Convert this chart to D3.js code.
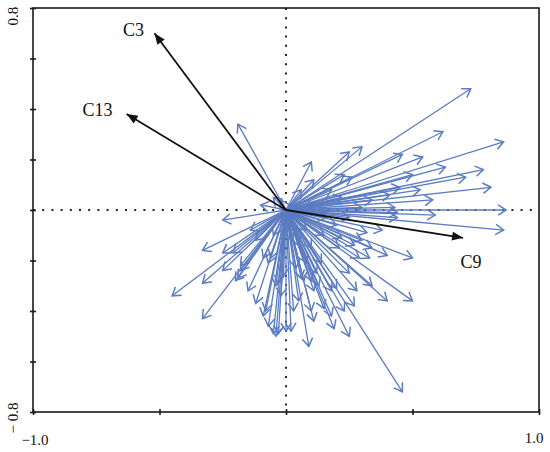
<!DOCTYPE html>
<html>
<head>
<meta charset="utf-8">
<script src="https://cdn.jsdelivr.net/npm/d3@7"></script>
<style>
  body { margin: 0; background: #fff; }
  svg text { font-family: "Liberation Serif", "DejaVu Serif", serif; fill: #111; }
</style>
</head>
<body>
<div id="chart"></div>
<script>
// species arrows (blue)
var speciesX = [0.73, 0.62, 0.86, 0.30, 0.25, 0.10, 0.46, 0.54, 0.63, 0.78, 0.71, 0.50, 0.26, 0.23, 0.11, 0.81, 0.45, 0.53, 0.41, 0.58, 0.34, 0.22, 0.87, 0.43, 0.30, 0.59,
    0.86, 0.44, 0.44, 0.38, 0.50, 0.40, 0.33, 0.29, 0.27, 0.34, 0.21, 0.30, 0.32, 0.50, 0.34, 0.28, 0.25, 0.20, 0.40, 0.27, 0.23, 0.25, 0.19, 0.11, 0.15, 0.10, 0.09, 0.46, 0.02, 0.00, -0.04, -0.02, 0.07,
    -0.19, -0.10, -0.25, -0.33, -0.25, -0.21, -0.25, -0.18, -0.33, -0.20, -0.15, -0.45, -0.33, -0.09, -0.07, -0.05, -0.03, -0.07,
    -0.18, -0.19, -0.09, -0.06, -0.01, -0.03, 0.06, 0.10, 0.08, 0.14, 0.04, 0.11, 0.18, 0.18, -0.05, -0.02, 0.12, 0.16, 0.08, 0.15, 0.20, 0.22, 0.05,
    -0.12, -0.08, 0.03, 0.05, -0.04, 0.13, -0.12, -0.05, 0.02, 0.10, -0.14, 0.06, 0.18, 0.25, 0.12];
var speciesY = [0.48, 0.31, 0.27, 0.25, 0.23, 0.19, 0.22, 0.21, 0.17, 0.16, 0.13, 0.14, 0.13, 0.14, 0.12, 0.09, 0.09, 0.08, 0.06, 0.04, 0.04, 0.05, 0.00, 0.01, 0.01, -0.02,
    -0.08, -0.01, -0.03, -0.08, -0.19, -0.18, -0.19, -0.19, -0.14, -0.15, -0.15, -0.12, -0.09, -0.36, -0.30, -0.32, -0.25, -0.31, -0.36, -0.38, -0.40, -0.50, -0.47, -0.44, -0.39, -0.40, -0.54, -0.72, -0.48, -0.48, -0.50, -0.34, -0.28,
    0.34, 0.02, -0.04, -0.16, -0.17, -0.17, -0.24, -0.24, -0.29, -0.28, -0.32, -0.34, -0.43, -0.42, -0.46, -0.49, -0.49, -0.21,
    -0.22, -0.27, -0.19, -0.19, -0.26, -0.29, -0.27, -0.28, -0.21, -0.21, -0.23, -0.32, -0.32, -0.42, 0.05, 0.04, 0.02, -0.03, -0.08, -0.10, -0.06, -0.11, -0.14,
    -0.37, -0.40, -0.40, -0.36, -0.30, -0.30, -0.12, -0.10, -0.12, -0.15, -0.08, 0.08, 0.08, -0.03, -0.25];

// environmental arrows (black)
var envLabels = ["C3", "C13", "C9"];
var envX = [-0.52, -0.63, 0.70];
var envY = [0.70, 0.38, -0.11];

var xTicks = [-1.0, -0.5, 0, 0.5, 1.0];
var yTicks = [-0.8, -0.6, -0.4, -0.2, 0, 0.2, 0.4, 0.6, 0.8];

var width = 550, height = 452;
var margin = {top: 8, right: 11, bottom: 40, left: 33};

var svg = d3.select("#chart")
    .append("svg")
    .attr("width", width)
    .attr("height", height);

var x = d3.scaleLinear().domain([-1, 1]).range([margin.left, width - margin.right]);
var y = d3.scaleLinear().domain([-0.8, 0.8]).range([height - margin.bottom, margin.top]);

var defs = svg.append("defs");
defs.append("marker")
    .attr("id", "headBlue")
    .attr("markerUnits", "userSpaceOnUse")
    .attr("viewBox", "-11 -7 13 14")
    .attr("refX", 0).attr("refY", 0)
    .attr("markerWidth", 13).attr("markerHeight", 14)
    .attr("orient", "auto")
    .append("path")
    .attr("d", "M-8,-5.2L0,0L-8,5.2")
    .attr("fill", "none")
    .attr("stroke", "#5b7cc1")
    .attr("stroke-width", 1.5);
defs.append("marker")
    .attr("id", "headBlack")
    .attr("markerUnits", "userSpaceOnUse")
    .attr("viewBox", "-12 -6 14 12")
    .attr("refX", 0).attr("refY", 0)
    .attr("markerWidth", 14).attr("markerHeight", 12)
    .attr("orient", "auto")
    .append("path")
    .attr("d", "M-11,-4.5L0,0L-11,4.5Z")
    .attr("fill", "#111");

// dotted zero lines
svg.append("line")
    .attr("x1", x(0)).attr("x2", x(0))
    .attr("y1", y(0.8)).attr("y2", y(-0.8))
    .attr("stroke", "#222").attr("stroke-width", 2)
    .attr("stroke-dasharray", "2,7.2");
svg.append("line")
    .attr("x1", x(-1)).attr("x2", x(1))
    .attr("y1", y(0)).attr("y2", y(0))
    .attr("stroke", "#222").attr("stroke-width", 2)
    .attr("stroke-dasharray", "2,7.2");

// frame
svg.append("rect")
    .attr("x", x(-1)).attr("y", y(0.8))
    .attr("width", x(1) - x(-1)).attr("height", y(-0.8) - y(0.8))
    .attr("fill", "none").attr("stroke", "#1a1a1a").attr("stroke-width", 1.6);

// axes with ticks crossing the frame
var yAxis = svg.append("g")
    .attr("transform", "translate(" + x(-1) + ",0)")
    .call(d3.axisLeft(y).tickValues(yTicks).tickSize(3).tickFormat(""));
var xAxis = svg.append("g")
    .attr("transform", "translate(0," + y(-0.8) + ")")
    .call(d3.axisBottom(x).tickValues(xTicks).tickSize(3).tickFormat(""));
[yAxis, xAxis].forEach(function (g) {
    g.select(".domain").remove();
    g.selectAll(".tick line").attr("stroke", "#1a1a1a").attr("stroke-width", 1.6);
});
yAxis.selectAll(".tick line").attr("x1", 3).attr("x2", -3);
xAxis.selectAll(".tick line").attr("y1", -3).attr("y2", 3);

// end labels
svg.append("text")
    .attr("x", x(-1) + 2).attr("y", 445)
    .attr("text-anchor", "middle")
    .style("font-size", "15px")
    .text("\u22121.0");
svg.append("text")
    .attr("x", x(1) - 5).attr("y", 443)
    .attr("text-anchor", "middle")
    .style("font-size", "15px")
    .text("1.0");
svg.append("text")
    .attr("transform", "translate(18," + (y(0.8) + 8) + ") rotate(-90)")
    .attr("text-anchor", "middle")
    .style("font-size", "15px")
    .text("0.8");
svg.append("text")
    .attr("transform", "translate(18," + (y(-0.8) + 6) + ") rotate(-90)")
    .attr("text-anchor", "middle")
    .style("font-size", "15px")
    .text("\u2212 0.8");

// blue species arrows
var species = speciesX.map(function (d, i) { return {x: d, y: speciesY[i]}; });
svg.append("g")
    .selectAll("line")
    .data(species)
    .enter()
    .append("line")
    .attr("x1", x(0)).attr("y1", y(0))
    .attr("x2", function (d) { return x(d.x); })
    .attr("y2", function (d) { return y(d.y); })
    .attr("stroke", "#5b7cc1")
    .attr("stroke-width", 1.3)
    .attr("marker-end", "url(#headBlue)");

// black environmental arrows
var env = envLabels.map(function (d, i) { return {name: d, x: envX[i], y: envY[i]}; });
svg.append("g")
    .selectAll("line")
    .data(env)
    .enter()
    .append("line")
    .attr("x1", x(0)).attr("y1", y(0))
    .attr("x2", function (d) { return x(d.x); })
    .attr("y2", function (d) { return y(d.y); })
    .attr("stroke", "#111")
    .attr("stroke-width", 1.8)
    .attr("marker-end", "url(#headBlack)");

var labelOffset = {C3: [-21, 3], C13: [-29, 2], C9: [8, 30]};
svg.append("g")
    .selectAll("text")
    .data(env)
    .enter()
    .append("text")
    .attr("x", function (d) { return x(d.x) + labelOffset[d.name][0]; })
    .attr("y", function (d) { return y(d.y) + labelOffset[d.name][1]; })
    .attr("text-anchor", "middle")
    .style("font-size", "18px")
    .text(function (d) { return d.name; });
</script>
</body>
</html>
